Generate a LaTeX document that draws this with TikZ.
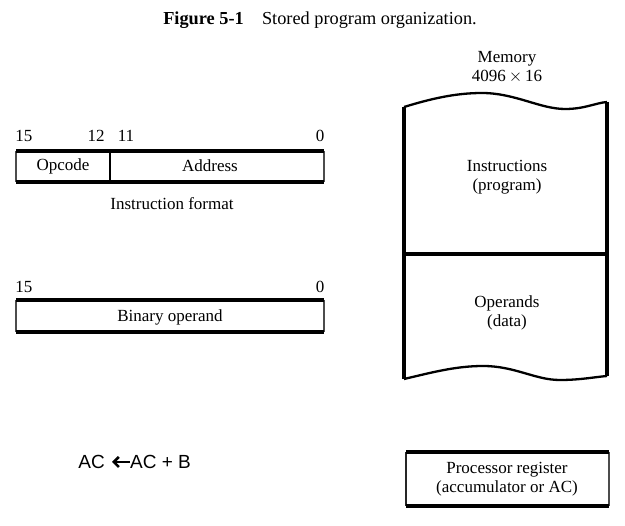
\documentclass[tikz,border=0pt]{standalone}
\usepackage{fontspec}
\setmainfont{Liberation Serif}
\newfontfamily\acfont{Liberation Sans}
\usetikzlibrary{arrows.meta}
\begin{document}
\begin{tikzpicture}[x=1pt,y=-1pt,
  lbl/.style={inner sep=0pt,font=\fontsize{17}{19.5}\selectfont},
  thinside/.style={line width=1.6pt,draw=black!70},
  thickline/.style={line width=3.2pt},
  membody/.style={line width=3.4pt},
  memwave/.style={line width=2.3pt}]
\useasboundingbox (0,0) rectangle (625,526);
% title
\node[lbl,font=\fontsize{18.3}{20}\selectfont] (title) at (320,20) {\textbf{Figure 5-1}\hspace{1em}Stored program organization.};
% instruction format
\coordinate (iTL) at (16,151); \coordinate (iTR) at (324,151);
\coordinate (iBL) at (16,182); \coordinate (iBR) at (324,182);
\coordinate (iDT) at (110,151); \coordinate (iDB) at (110,182);
\draw[thinside] (iTL) -- (iBL);
\draw[thinside] (iTR) -- (iBR);
\draw[line width=2.2pt] (iDT) -- (iDB);
\draw[thickline] (iTL) -- (iTR);
\draw[thickline] (iBL) -- (iBR);
\node[lbl] (opcode) at (63,166) {Opcode};
\node[lbl] (address) at (210,166) {Address};
\node[lbl] (b15) at (24,136) {15};
\node[lbl] (b12) at (96,136) {12};
\node[lbl] (b11) at (126,136) {11};
\node[lbl] (b0) at (320,136) {0};
\node[lbl] (iformat) at (172,204) {Instruction format};
% binary operand
\coordinate (oTL) at (16,300); \coordinate (oTR) at (324,300);
\coordinate (oBL) at (16,332); \coordinate (oBR) at (324,332);
\draw[thinside] (oTL) -- (oBL);
\draw[thinside] (oTR) -- (oBR);
\draw[thickline] (oTL) -- (oTR);
\draw[thickline] (oBL) -- (oBR);
\node[lbl] (c15) at (24,287) {15};
\node[lbl] (c0) at (320,287) {0};
\node[lbl] (binop) at (170,317) {Binary operand};
% memory
\node[lbl,align=center] (memlbl) at (507,67) {Memory\\4096\,$\times$\,16};
\coordinate (mTL) at (404,107); \coordinate (mTR) at (607,102);
\coordinate (mBL) at (404,379); \coordinate (mBR) at (607,376);
\coordinate (mDL) at (404,254); \coordinate (mDR) at (607,254);
\draw[memwave] (mTL) .. controls (430,99) and (455,93) .. (482,93)
  .. controls (515,93) and (540,109) .. (565,109)
  .. controls (585,109) and (595,103) .. (mTR);
\draw[memwave] (mBL) .. controls (430,373) and (455,366) .. (483,366)
  .. controls (515,366) and (535,380) .. (560,380)
  .. controls (580,380) and (595,377) .. (mBR);
\draw[membody] (mTL) -- (mBL);
\draw[membody] (mTR) -- (mBR);
\draw[membody] (mDL) -- (mDR);
\node[lbl,align=center] (instr) at (507,177) {Instructions\\(program)};
\node[lbl,align=center] (oper) at (507,313) {Operands\\(data)};
% processor register
\coordinate (pTL) at (406,452); \coordinate (pTR) at (609,452);
\coordinate (pBL) at (406,506); \coordinate (pBR) at (609,506);
\draw[thinside,draw=black!85] (pTL) -- (pBL);
\draw[thinside] (pTR) -- (pBR);
\draw[thickline] (pTL) -- (pTR);
\draw[thickline] (pBL) -- (pBR);
\node[lbl,align=center] (preg) at (507,479) {Processor register\\(accumulator or AC)};
% AC <- AC + B
\node[inner sep=0pt,font=\acfont\fontsize{19}{22}\selectfont,anchor=east] (lhs) at (105,462) {AC};
\node[inner sep=0pt,font=\acfont\fontsize{19}{22}\selectfont,anchor=west] (rhs) at (130,462) {AC + B};
\draw[line width=2.6pt,-{Straight Barb[length=5pt,width=10pt]}] (rhs.west) -- ([xshift=7pt]lhs.east);
\end{tikzpicture}
\end{document}
